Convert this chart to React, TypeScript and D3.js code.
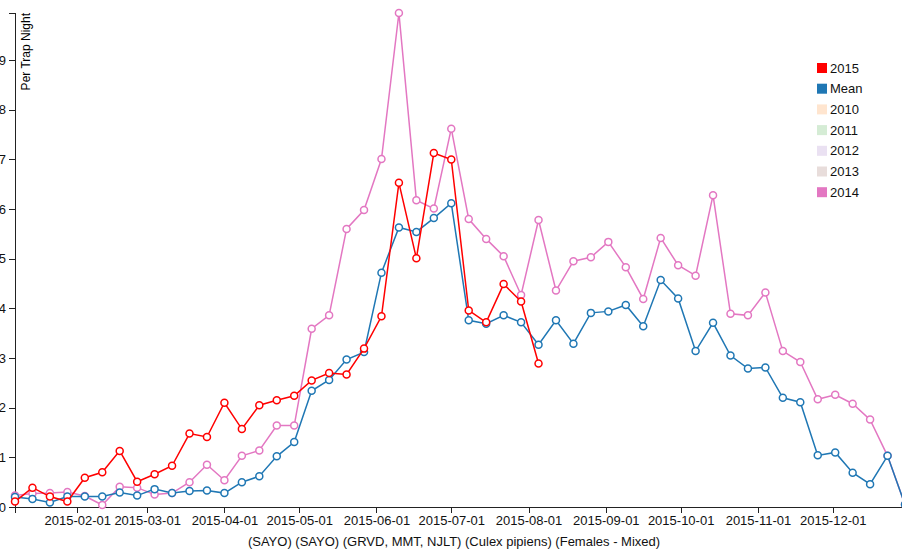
import { useEffect, useRef } from "react";
import * as d3 from "d3";

// weekly values, first week starts 2015-01-07
const weekStart = new Date(2015, 0, 7);

const meanValues = [
  0.20, 0.16, 0.09, 0.21, 0.21, 0.21, 0.29, 0.23, 0.36, 0.28,
  0.32, 0.33, 0.28, 0.50, 0.62, 1.02, 1.31, 2.34, 2.56, 2.97,
  3.12, 4.72, 5.63, 5.54, 5.82, 6.12, 3.76, 3.69, 3.86, 3.72,
  3.27, 3.76, 3.29, 3.91, 3.94, 4.07, 3.64, 4.57, 4.20, 3.14,
  3.71, 3.05, 2.79, 2.81, 2.20, 2.11, 1.04, 1.10, 0.69, 0.46,
  1.03, 0.05,
];

const values2014 = [
  0.23, 0.27, 0.28, 0.30, 0.22, 0.04, 0.41, 0.39, 0.25, 0.28,
  0.50, 0.85, 0.54, 1.03, 1.14, 1.64, 1.64, 3.59, 3.86, 5.60,
  5.98, 7.01, 9.95, 6.18, 6.01, 7.62, 5.80, 5.40, 5.05, 4.27,
  5.78, 4.36, 4.95, 5.03, 5.34, 4.83, 4.19, 5.42, 4.87, 4.66,
  6.28, 3.89, 3.86, 4.32, 3.14, 2.92, 2.17, 2.26, 2.08, 1.76,
  1.03, 0.05,
];

const values2015 = [
  0.11, 0.39, 0.21, 0.11, 0.59, 0.70, 1.13, 0.51, 0.66, 0.83,
  1.48, 1.41, 2.10, 1.57, 2.05, 2.15, 2.24, 2.55, 2.70, 2.67,
  3.19, 3.84, 6.53, 5.01, 7.13, 7.00, 3.96, 3.72, 4.49, 4.14,
  2.89,
];

const legendNames = ["2015", "Mean", "2010", "2011", "2012", "2013", "2014"];
const legendColors = ["#ff0000", "#1f77b4", "#ff7f0e", "#2ca02c", "#9467bd", "#8c564b", "#e377c2"];
const legendOn = [true, true, false, false, false, false, true];

const yTicks = [0, 1, 2, 3, 4, 5, 6, 7, 8, 9];
const yLabel = "Per Trap Night";
const xLabel = "(SAYO) (SAYO) (GRVD, MMT, NJLT) (Culex pipiens) (Females - Mixed)";

const FONT = "'Liberation Sans', Arial, sans-serif";

export default function App() {
  const svgRef = useRef<SVGSVGElement>(null);

  useEffect(() => {
    if (!svgRef.current) return;
    const svg = d3.select(svgRef.current);
    svg.selectAll("*").remove();

    const totalWidth = 902;
    const totalHeight = 550;
    const margin = { top: 13, left: 15 };
    const width = 890;
    const height = 494;

    const g = svg.append("g").attr("transform", `translate(${margin.left},${margin.top})`);

    const dateOf = (i: number) => d3.timeDay.offset(weekStart, i * 7);
    const lastDate = dateOf(meanValues.length - 1);

    const x = d3.scaleTime().domain([weekStart, lastDate]).range([0, width]);
    const yMax = d3.max([...meanValues, ...values2014, ...values2015]) ?? 10;
    const y = d3.scaleLinear().domain([0, yMax]).range([height, 0]);

    // x axis
    const xAxis = g.append("g")
      .attr("transform", `translate(0,${height})`)
      .call(d3.axisBottom(x)
        .ticks(d3.timeMonth.every(1))
        .tickFormat(d => d3.timeFormat("%Y-%m-%d")(d as Date)));

    // y axis
    const yAxis = g.append("g").call(d3.axisLeft(y).tickValues(yTicks).tickFormat(d3.format("d")));

    yAxis.append("text")
      .attr("transform", "rotate(-90)")
      .attr("y", 6)
      .attr("dy", ".71em")
      .attr("fill", "#000")
      .attr("font-size", 12)
      .style("text-anchor", "end")
      .text(yLabel);

    for (const ax of [xAxis, yAxis]) {
      ax.attr("font-family", FONT).attr("font-size", 13);
      ax.selectAll("path, line").attr("stroke", "#222").attr("shape-rendering", "crispEdges");
      ax.selectAll(".tick text").attr("fill", "#111");
    }

    const line = d3.line<number>()
      .x((_, i) => x(dateOf(i)))
      .y(d => y(d));

    const series = [
      { values: values2014, color: "#e377c2" },
      { values: meanValues, color: "#1f77b4" },
      { values: values2015, color: "#ff0000" },
    ];

    for (const s of series) {
      g.append("path")
        .datum(s.values)
        .attr("fill", "none")
        .attr("stroke", s.color)
        .attr("stroke-width", 1.5)
        .attr("d", line);

      g.selectAll(null)
        .data(s.values)
        .enter()
        .append("circle")
        .attr("cx", (_, i) => x(dateOf(i)))
        .attr("cy", d => y(d))
        .attr("r", 3.5)
        .attr("fill", "#fff")
        .attr("stroke", s.color)
        .attr("stroke-width", 1.5);
    }

    // legend
    const legend = svg.append("g").attr("font-family", FONT).attr("font-size", 13);
    legendNames.forEach((name, i) => {
      const row = legend.append("g").attr("transform", `translate(817,${63 + i * 20.7})`);
      row.append("rect")
        .attr("width", 10)
        .attr("height", 10)
        .attr("fill", legendColors[i])
        .attr("fill-opacity", legendOn[i] ? 1 : 0.2);
      row.append("text")
        .attr("x", 13)
        .attr("y", 5)
        .attr("dy", ".35em")
        .attr("fill", "#111")
        .text(name);
    });

    svg.append("text")
      .attr("x", 454)
      .attr("y", 546)
      .attr("text-anchor", "middle")
      .attr("font-family", FONT)
      .attr("font-size", 13)
      .attr("fill", "#111")
      .text(xLabel);

    svg.attr("width", totalWidth).attr("height", totalHeight);
  }, []);

  return (
    <svg
      ref={svgRef}
      width={902}
      height={550}
      style={{ position: "absolute", left: 0, top: 0, background: "#fff" }}
    />
  );
}
